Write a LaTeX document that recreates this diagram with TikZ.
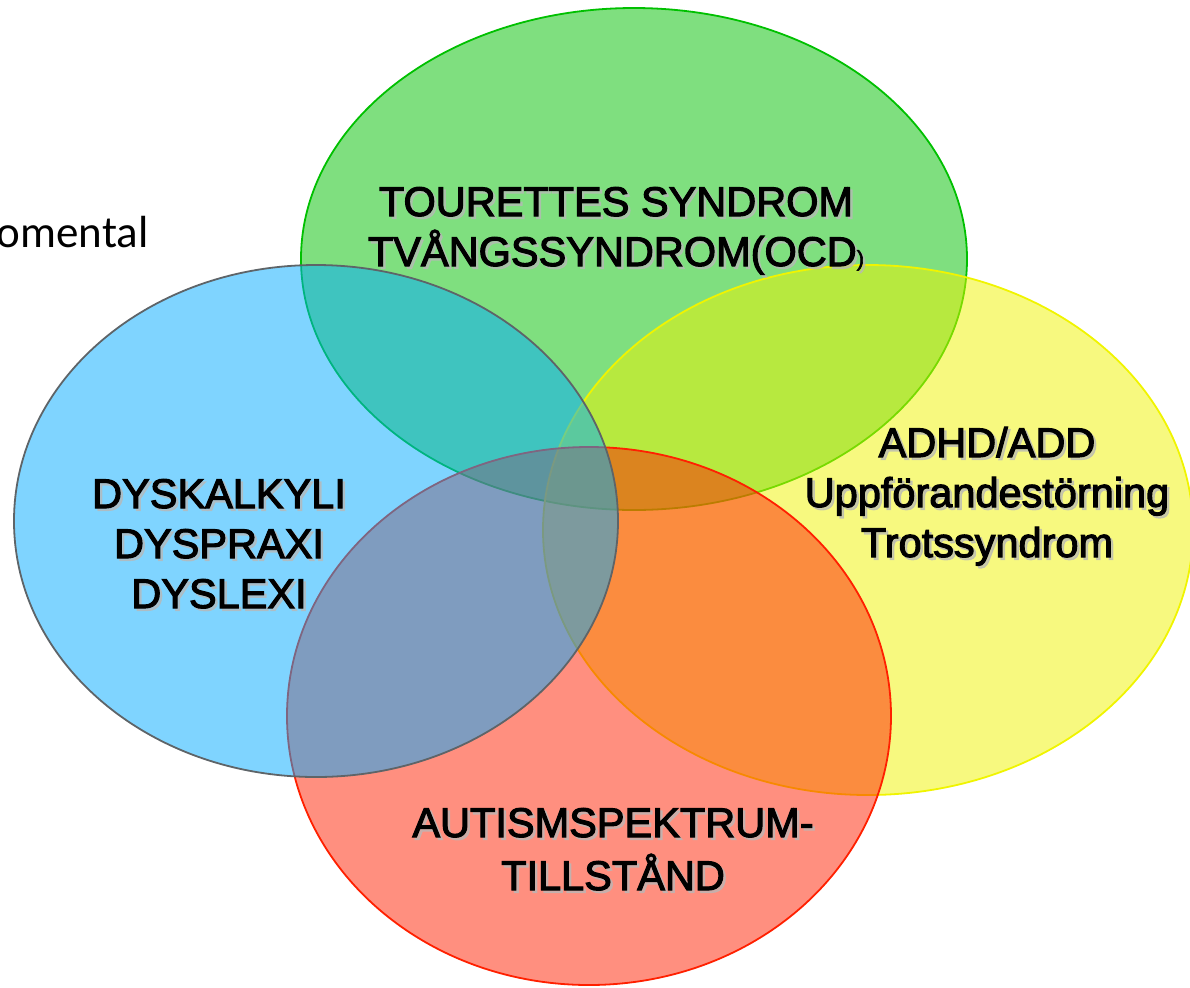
\documentclass[tikz,border=0pt]{standalone}
\usepackage{fontspec}
\setmainfont{Liberation Sans}
\newfontfamily\labelfont{Liberation Sans}[FakeBold=2.6]
\newfontfamily\calibrifont{Carlito}
\usetikzlibrary{shapes.geometric,calc}

\definecolor{setgreen}{HTML}{00C000}
\definecolor{setyellow}{HTML}{F0F400}
\definecolor{setred}{HTML}{FF2000}
\definecolor{setblue}{HTML}{00AAFF}
\definecolor{setblueline}{HTML}{5E6468}
\definecolor{shadowgrey}{HTML}{B8B8B8}

% one label with its soft shadow
\newcommand\setlabel[3]{%
  \node[textshadow] at ($(#2)+(2.5,2.5)$) {#3};
  \node[settext] (#1) at (#2) {#3};}

\begin{document}
\begin{tikzpicture}[x=0.5pt,y=-0.5pt]

  % --- styles ---
  \tikzset{
    % the four sets: half transparent fill, full outline
    setshape/.style={
      ellipse,
      inner sep=0pt,
      fill opacity=0.5,
      draw opacity=1,
      line width=0.9pt
    },
    greenset/.style={setshape, fill=setgreen, draw=setgreen, minimum width=333pt, minimum height=251pt},
    yellowset/.style={setshape, fill=setyellow, draw=setyellow, minimum width=325pt, minimum height=265pt},
    redset/.style={setshape, fill=setred, draw=setred, minimum width=302pt, minimum height=269pt},
    blueset/.style={setshape, fill=setblue, draw=setblueline, minimum width=302pt, minimum height=256pt},
    % labels inside the sets (anchored on the last line)
    settext/.style={
      font=\labelfont\fontsize{20.75pt}{25pt}\selectfont,
      align=center,
      anchor=base,
      inner sep=0pt,
      text=black
    },
    textshadow/.style={settext, text=shadowgrey, text opacity=0.7}
  }

  \useasboundingbox (0,0) rectangle (1190,987);

  % --- text cut off at the left edge ---
  \node[font=\calibrifont\fontsize{22.5pt}{22.5pt}\selectfont, anchor=base east, inner sep=0pt] (devtext) at (149,247) {omental};

  % --- the sets, back to front ---
  \node[greenset] (tourette) at (634,259) {};
  \node[yellowset] (adhdset) at (868,530) {};
  \node[redset] (autismset) at (589,716) {};
  \node[blueset] (dysset) at (316,521) {};

  % --- labels ---
  \setlabel{tourettetext}{616,266}{TOURETTES SYNDROM\\TVÅNGSSYNDROM(OCD{\fontsize{11pt}{11pt}\selectfont)}}
  \setlabel{dystext}{219,608}{DYSKALKYLI\\DYSPRAXI\\DYSLEXI}
  \setlabel{adhdtext}{987,557}{ADHD/ADD\\Uppförandestörning\\Trotssyndrom}
  \setlabel{autismtext}{613,890}{AUTISMSPEKTRUM-\\[1.5pt]TILLSTÅND}

\end{tikzpicture}
\end{document}
